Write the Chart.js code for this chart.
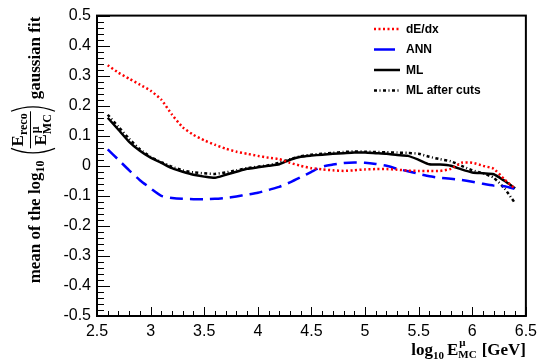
<!DOCTYPE html>
<html>
<head>
<meta charset="utf-8">
<script src="https://cdn.jsdelivr.net/npm/chart.js@4.4.0/dist/chart.umd.min.js"></script>
<style>
  html, body { margin: 0; padding: 0; background: #fff; }
  canvas { display: block; }
</style>
</head>
<body>
<canvas id="chart" width="543" height="362"></canvas>
<script>
// log10 of the true muon energy (bin centres)
const logE = [2.6, 2.7, 2.8, 2.9, 3.0, 3.1, 3.2, 3.3, 3.4, 3.5,
              3.6, 3.7, 3.8, 3.9, 4.0, 4.1, 4.2, 4.3, 4.4, 4.5,
              4.6, 4.7, 4.8, 4.9, 5.0, 5.1, 5.2, 5.3, 5.4, 5.5,
              5.6, 5.7, 5.8, 5.9, 6.0, 6.1, 6.2, 6.3, 6.4];

const dedx = [0.335, 0.31, 0.29, 0.27, 0.25, 0.22, 0.17, 0.128, 0.103, 0.085,
              0.07, 0.057, 0.047, 0.04, 0.033, 0.027, 0.022, 0.01, 0.0, -0.008,
              -0.012, -0.015, -0.017, -0.015, -0.012, -0.011, -0.011, -0.013, -0.016, -0.017,
              -0.017, -0.017, -0.01, 0.01, 0.01, 0.0, -0.01, -0.045, -0.077];

const ann = [0.055, 0.02, -0.015, -0.048, -0.075, -0.10, -0.107, -0.11, -0.111, -0.111,
             -0.11, -0.107, -0.102, -0.096, -0.09, -0.08, -0.07, -0.055, -0.038, -0.02,
             -0.003, 0.004, 0.009, 0.011, 0.01, 0.006, 0.0, -0.01, -0.018, -0.027,
             -0.035, -0.04, -0.043, -0.047, -0.053, -0.06, -0.066, -0.068, -0.077];

const ml = [0.16, 0.12, 0.08, 0.05, 0.027, 0.01, -0.008, -0.02, -0.03, -0.036,
            -0.04, -0.03, -0.02, -0.01, -0.005, 0.0, 0.005, 0.02, 0.03, 0.034,
            0.037, 0.04, 0.042, 0.044, 0.044, 0.042, 0.04, 0.036, 0.033, 0.02,
            0.005, 0.004, 0.0, -0.012, -0.022, -0.025, -0.028, -0.05, -0.075];

const mlCuts = [0.17, 0.13, 0.09, 0.055, 0.03, 0.012, -0.003, -0.015, -0.022, -0.025,
                -0.027, -0.022, -0.015, -0.008, -0.003, 0.002, 0.01, 0.022, 0.032, 0.037,
                0.04, 0.043, 0.046, 0.048, 0.047, 0.046, 0.045, 0.044, 0.043, 0.04,
                0.03, 0.022, 0.015, 0.0, -0.015, -0.025, -0.04, -0.075, -0.125];

const xTickValues = [2.5, 3, 3.5, 4, 4.5, 5, 5.5, 6, 6.5];
const yTickValues = [-0.5, -0.4, -0.3, -0.2, -0.1, 0, 0.1, 0.2, 0.3, 0.4, 0.5];

const toPoints = ys => ys.map((y, i) => ({x: logE[i], y: y}));

// ROOT-like look: inward ticks, frame, legend box, axis titles
const rootStyle = {
	id: 'rootStyle',
	afterDraw(chart) {
		const ctx = chart.ctx;
		const a = chart.chartArea;
		const xs = chart.scales.x;
		const ys = chart.scales.y;
		ctx.save();
		ctx.strokeStyle = '#000';
		ctx.fillStyle = '#000';
		ctx.lineWidth = 1;

		// x ticks: every 0.1, major every 0.5
		for (let i = 0; i <= 40; i++) {
			const px = Math.round(xs.getPixelForValue(2.5 + i * 0.1)) + 0.5;
			const len = i % 5 === 0 ? 9 : 5;
			ctx.beginPath();
			ctx.moveTo(px, a.bottom);
			ctx.lineTo(px, a.bottom - len);
			ctx.stroke();
		}
		// y ticks: every 0.02, major every 0.1
		for (let i = 0; i <= 50; i++) {
			const py = Math.round(ys.getPixelForValue(-0.5 + i * 0.02)) + 0.5;
			const len = i % 5 === 0 ? 13 : 7;
			ctx.beginPath();
			ctx.moveTo(a.left, py);
			ctx.lineTo(a.left + len, py);
			ctx.stroke();
		}

		// frame
		ctx.lineWidth = 2;
		ctx.strokeRect(a.left, a.top, a.right - a.left, a.bottom - a.top);

		// legend
		const rows = [29, 49.5, 70, 90.5];
		const sampleEnd = [400, 395, 400, 400];
		ctx.font = 'bold 12px "Liberation Sans"';
		ctx.textBaseline = 'middle';
		ctx.textAlign = 'left';
		chart.data.datasets.forEach((ds, i) => {
			ctx.strokeStyle = ds.borderColor;
			ctx.lineWidth = ds.borderWidth;
			ctx.setLineDash(i === 1 ? [] : (ds.borderDash || []));
			ctx.beginPath();
			ctx.moveTo(374, rows[i]);
			ctx.lineTo(sampleEnd[i], rows[i]);
			ctx.stroke();
			ctx.setLineDash([]);
			ctx.fillText(ds.label, 406, rows[i] + 0.5);
		});

		drawXTitle(ctx);
		drawYTitle(ctx);
		ctx.restore();
	}
};

function drawXTitle(ctx) {
	const big = 'bold 17px "Liberation Serif"';
	const small = 'bold 11px "Liberation Serif"';
	ctx.save();
	ctx.textBaseline = 'alphabetic';
	ctx.textAlign = 'left';
	ctx.fillStyle = '#000';
	const w = (f, t) => { ctx.font = f; return ctx.measureText(t).width; };
	const wLog = w(big, 'log');
	const w10 = w(small, '10');
	const wE = w(big, 'E');
	const wMC = w(small, 'MC');
	const wGeV = w(big, '[GeV]');
	const total = wLog + w10 + 3 + wE + wMC + 5 + wGeV;
	let x = 526 - total;
	const base = 355;
	ctx.font = big; ctx.fillText('log', x, base); x += wLog;
	ctx.font = small; ctx.fillText('10', x, base + 4); x += w10 + 3;
	ctx.font = big; ctx.fillText('E', x, base); x += wE;
	ctx.font = small; ctx.fillText('μ', x + 1, base - 9); ctx.fillText('MC', x, base + 3); x += wMC + 5;
	ctx.font = big; ctx.fillText('[GeV]', x, base);
	ctx.restore();
}

function drawYTitle(ctx) {
	const big = 'bold 17px "Liberation Serif"';
	const small = 'bold 12px "Liberation Serif"';
	ctx.save();
	ctx.translate(40, 150);
	ctx.rotate(-Math.PI / 2);
	ctx.fillStyle = '#000';
	ctx.strokeStyle = '#000';
	ctx.textBaseline = 'alphabetic';
	ctx.textAlign = 'left';
	const w = (f, t) => { ctx.font = f; return ctx.measureText(t).width; };
	const wMain = w(big, 'mean of the log');
	const w10 = w(small, '10');
	const wE = w(big, 'E');
	const wReco = w(small, 'reco');
	const wMC = w(small, 'MC');
	const wFrac = Math.max(wE + wReco, wE + wMC) + 4;
	const wParen = 7;
	const wFit = w(big, 'gaussian fit');
	const gap = 5;
	const total = wMain + w10 + gap + wParen + wFrac + wParen + gap + wFit;
	let x = -total / 2;
	ctx.font = big; ctx.fillText('mean of the log', x, 0); x += wMain;
	ctx.font = small; ctx.fillText('10', x, 4); x += w10 + gap;
	ctx.lineWidth = 1.2;
	ctx.beginPath();
	ctx.moveTo(x + wParen, -29);
	ctx.quadraticCurveTo(x - 2, -7, x + wParen, 15);
	ctx.stroke();
	x += wParen;
	const nx = x + (wFrac - wE - wReco) / 2;
	ctx.font = big; ctx.fillText('E', nx, -17);
	ctx.font = small; ctx.fillText('reco', nx + wE, -13);
	ctx.lineWidth = 1;
	ctx.beginPath();
	ctx.moveTo(x, -9.5);
	ctx.lineTo(x + wFrac, -9.5);
	ctx.stroke();
	const dx = x + (wFrac - wE - wMC) / 2;
	ctx.font = big; ctx.fillText('E', dx, 6);
	ctx.font = small; ctx.fillText('μ', dx + wE + 1, -1); ctx.fillText('MC', dx + wE, 11);
	x += wFrac;
	ctx.lineWidth = 1.2;
	ctx.beginPath();
	ctx.moveTo(x, -29);
	ctx.quadraticCurveTo(x + wParen + 2, -7, x, 15);
	ctx.stroke();
	x += wParen + gap;
	ctx.font = big; ctx.fillText('gaussian fit', x, 0);
	ctx.restore();
}

Chart.defaults.font.family = '"Liberation Sans", Arial, sans-serif';
Chart.defaults.color = '#000';

new Chart(document.getElementById('chart'), {
	type: 'line',
	data: {
		datasets: [
			{
				label: 'dE/dx',
				data: toPoints(dedx),
				borderColor: '#ff0000',
				borderWidth: 2.5,
				borderDash: [2, 2.5],
				pointRadius: 0,
				tension: 0.2,
				fill: false,
			},
			{
				label: 'ANN',
				data: toPoints(ann),
				borderColor: '#0000ff',
				borderWidth: 2.5,
				borderDash: [13, 7],
				pointRadius: 0,
				tension: 0.2,
				fill: false,
			},
			{
				label: 'ML',
				data: toPoints(ml),
				borderColor: '#000000',
				borderWidth: 2.5,
				pointRadius: 0,
				tension: 0.2,
				fill: false,
			},
			{
				label: 'ML after cuts',
				data: toPoints(mlCuts),
				borderColor: '#000000',
				borderWidth: 2.5,
				borderDash: [3, 2.5, 1, 2.5],
				pointRadius: 0,
				tension: 0.2,
				fill: false,
			},
		],
	},
	options: {
		responsive: false,
		animation: false,
		devicePixelRatio: 1,
		layout: {
			padding: {left: 0, right: 17, top: 14, bottom: 0},
		},
		plugins: {
			legend: {display: false},
			tooltip: {enabled: false},
		},
		scales: {
			x: {
				type: 'linear',
				min: 2.5,
				max: 6.5,
				afterBuildTicks: s => { s.ticks = xTickValues.map(v => ({value: v})); },
				afterFit: s => { s.height = 46; },
				grid: {display: false, drawTicks: false},
				border: {display: false},
				ticks: {
					font: {size: 16},
					color: '#000',
					padding: 6,
					maxRotation: 0,
					callback: v => String(Math.round(v * 10) / 10),
				},
			},
			y: {
				min: -0.5,
				max: 0.5,
				afterBuildTicks: s => { s.ticks = yTickValues.map(v => ({value: v})); },
				afterFit: s => { s.width = 97; },
				grid: {display: false, drawTicks: false},
				border: {display: false},
				ticks: {
					font: {size: 16},
					color: '#000',
					padding: 6,
					callback: v => String(Math.round(v * 10) / 10),
				},
			},
		},
	},
	plugins: [rootStyle],
});
</script>
</body>
</html>
